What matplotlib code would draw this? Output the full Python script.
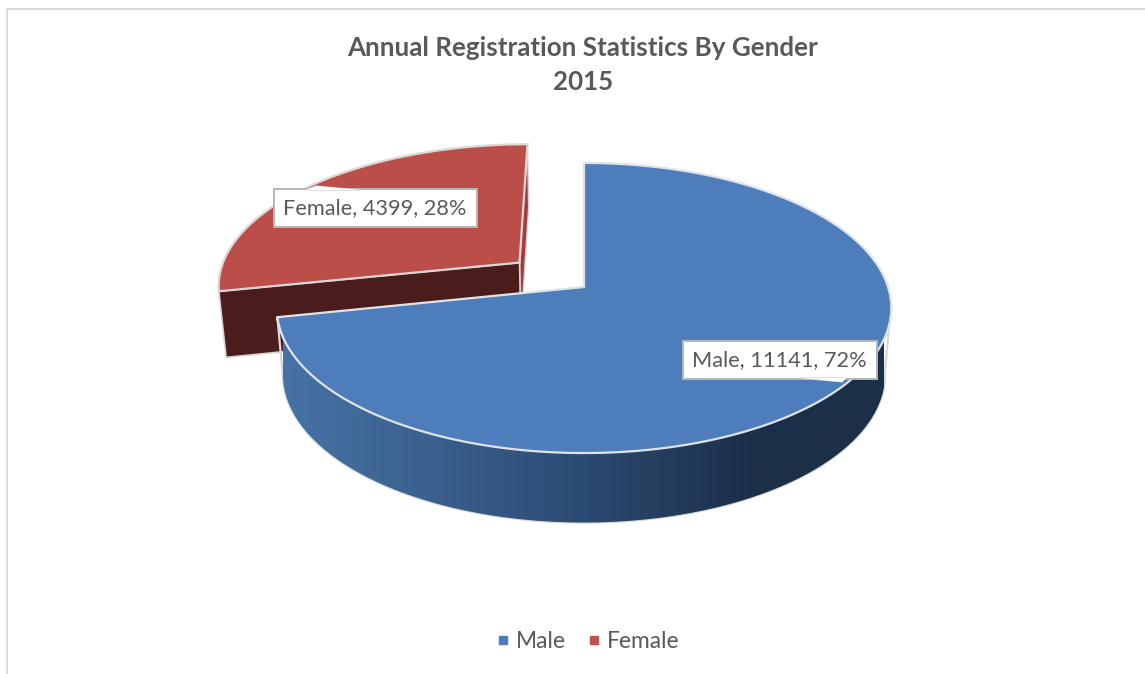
import numpy as np
import matplotlib
matplotlib.use("Agg")
import matplotlib.pyplot as plt
from matplotlib.patches import Polygon, Rectangle
from matplotlib.lines import Line2D
from matplotlib.colors import LinearSegmentedColormap

categories = ["Male", "Female"]
values = [11141, 4399]
title_lines = ["Annual Registration Statistics By Gender", "2015"]

FONT = "Lato"
GREY = "#595959"
plt.rcParams["font.family"] = [FONT, "DejaVu Sans"]

fig = plt.figure(figsize=(11.45, 6.74), dpi=100, facecolor="white")
ax = fig.add_axes([0, 0, 1, 1])
ax.set_xlim(0, 1145)
ax.set_ylim(674, 0)
ax.axis("off")

# perspective projection of the pie's unit disc into the picture
CX, TOP_Y, BOT_Y = 584.0, 287.0, 353.0
BX, AY_TOP, AY_BOT, K, BOT_SCALE = 304.0, 142.0, 145.0, 0.1448, 0.98
EXPLODE = 0.28


def top(u, v):
    d = 1 + K * v
    return CX + BX * u / d, TOP_Y - AY_TOP * v / d


def bottom(u, v):
    d = 1 + K * v
    return CX + BOT_SCALE * BX * u / d, BOT_Y - AY_BOT * v / d


def pts(fn, t, du=0.0, dv=0.0):
    x, y = fn(np.sin(t) + du, np.cos(t) + dv)
    return np.column_stack([x, y])


fractions = np.array(values) / sum(values)
end_male = 2 * np.pi * fractions[0]
mid_female = end_male + np.pi * fractions[1]
du, dv = EXPLODE * np.sin(mid_female), EXPLODE * np.cos(mid_female)

t_f = np.linspace(end_male, 2 * np.pi, 120)
t_m = np.linspace(0, end_male, 400)
t_side = np.linspace(np.radians(97), end_male, 300)

# Female: walls and top
f_apex_top = np.array(top(du, dv))
f_apex_bot = np.array(bottom(du, dv))
f_left_top = pts(top, np.array([end_male]), du, dv)[0]
f_left_bot = pts(bottom, np.array([end_male]), du, dv)[0]
f_right_top = pts(top, np.array([2 * np.pi]), du, dv)[0]
f_right_bot = pts(bottom, np.array([2 * np.pi]), du, dv)[0]

ax.add_patch(Polygon([f_right_top, f_apex_top, f_apex_bot, f_right_bot],
                     fc="#9c3f3c", ec="#d9d0cf", lw=1.0, zorder=2))
ax.add_patch(Polygon([f_left_top, f_apex_top, f_apex_bot, f_left_bot],
                     fc="#4a1c1b", ec="#d8d2d2", lw=1.2, zorder=2))
f_face = np.vstack([f_apex_top, pts(top, t_f, du, dv)])
ax.add_patch(Polygon(f_face, closed=True, fc="#bc4e4a", ec="#dcd6d6", lw=1.6, zorder=3))

# Male: outer wall with horizontal shading
side = np.vstack([pts(top, t_side), pts(bottom, t_side)[::-1]])
wall = Polygon(side, closed=True, fc="none", ec="#d5d8dc", lw=1.6, zorder=4)
ax.add_patch(wall)
shade = LinearSegmentedColormap.from_list(
    "shade",
    [(0.0, "#4672a5"), (0.2, "#3d6492"), (0.47, "#2d4d76"), (0.78, "#1c2f4a"), (1.0, "#1c2f48")],
)
img = ax.imshow(np.linspace(0, 1, 512).reshape(1, -1), cmap=shade, aspect="auto",
                extent=(283, 884, 530, 300), zorder=4)
img.set_clip_path(wall)
ax.set_xlim(0, 1145)
ax.set_ylim(674, 0)

m_face = np.vstack([top(0.0, 0.0), pts(top, t_m)])
ax.add_patch(Polygon(m_face, closed=True, fc="#4d7ebb", ec="#dfe3e8", lw=1.6, zorder=5))

# Data labels
label_boxes = {"Male": (683, 341, 194, 38), "Female": (274, 189, 203, 38)}
leaders = {
    "Male": [(800, 378), (842, 382), (846, 378)],
    "Female": [(306, 190), (316, 186), (360, 190)],
}
for name, value, frac in zip(categories, values, fractions):
    bx, by, bw, bh = label_boxes[name]
    ax.add_patch(Rectangle((bx, by), bw, bh, fc="white", ec="#b5b5b5", lw=1.4, zorder=6))
    ax.add_patch(Polygon(leaders[name], closed=True, fc="white", ec="#c8c8c8", lw=0.8, zorder=6))
    ax.add_patch(Polygon(leaders[name], closed=True, fc="white", ec="none", zorder=6))
    ax.text(bx + bw / 2 - 0.5, by + bh / 2 + 0.5, f"{name}, {value}, {frac * 100:.0f}%",
            ha="center", va="center", fontsize=15.7, color=GREY, zorder=7)

# Title
ax.text(583, 47.5, title_lines[0], ha="center", va="center", fontsize=18.7, fontweight="bold", color=GREY)
ax.text(583, 82.5, title_lines[1], ha="center", va="center", fontsize=18.7, fontweight="bold", color=GREY)

# Chart frame
ax.add_line(Line2D([6.5, 6.5, 1145], [674, 8.5, 8.5], color="#d9d9d9", lw=1.4, zorder=1))

# Legend
handles = [Line2D([], [], ls="none", marker="s", ms=6.2, color=c)
           for c in ("#4d7ebb", "#c0504d")]
ax.legend(handles, categories, ncol=2, loc="center", bbox_to_anchor=(588.5 / 1145, 1 - 641.5 / 674),
          frameon=False, fontsize=16.4, labelcolor=GREY, handlelength=0.5, handletextpad=0.3,
          columnspacing=1.0, borderpad=0)

fig.savefig("out.png", dpi=100, facecolor="white")
